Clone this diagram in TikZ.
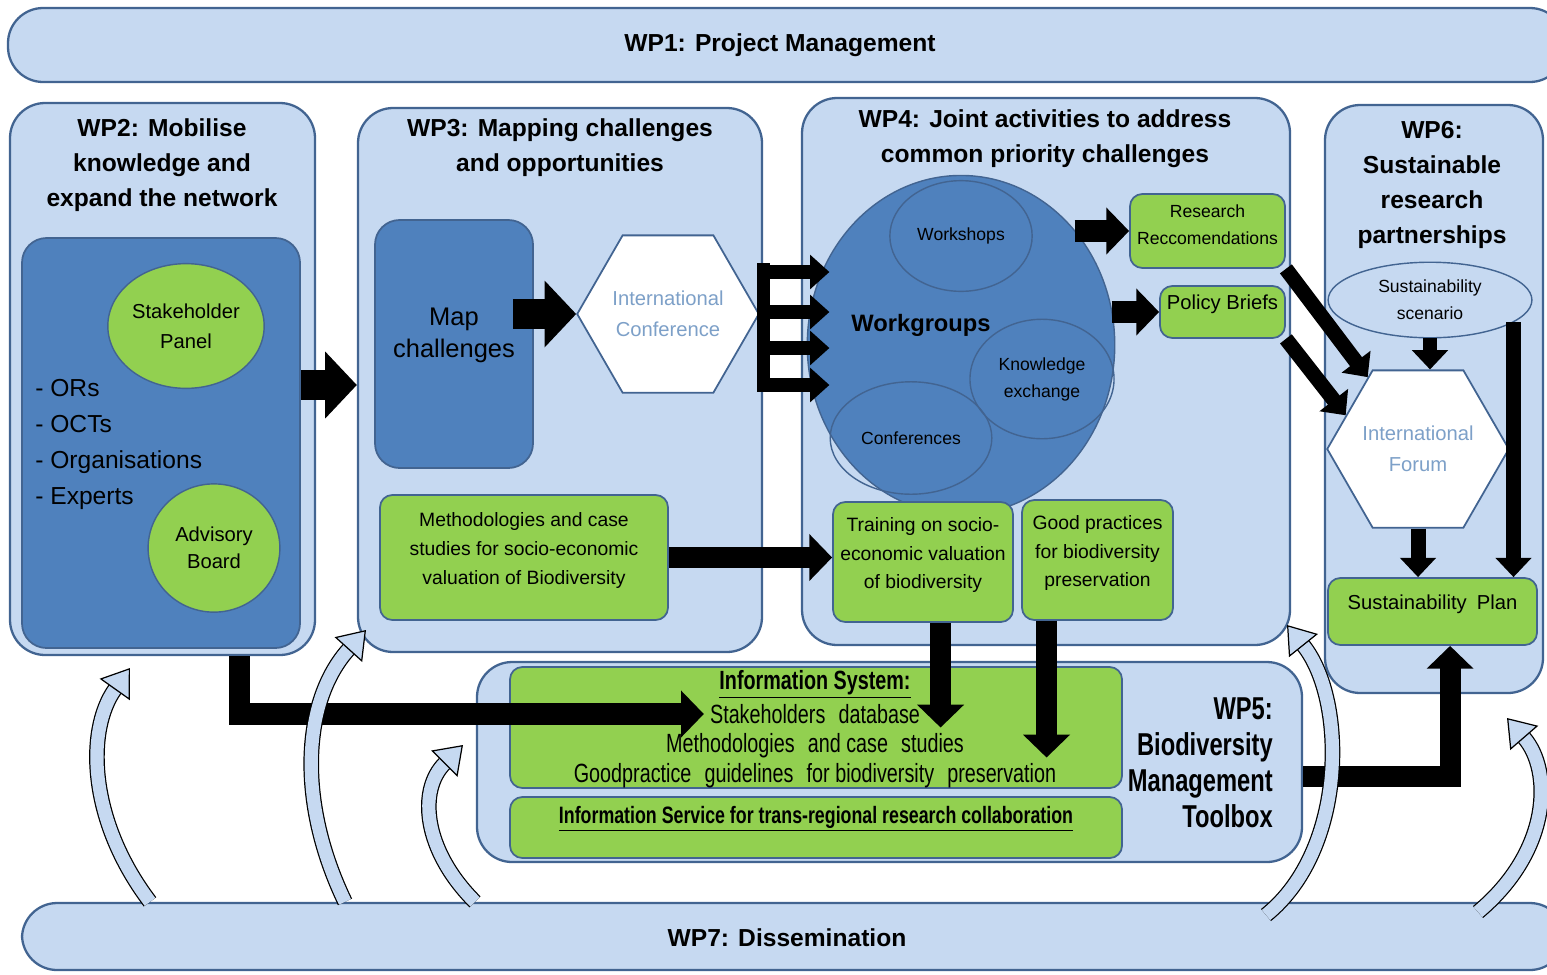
\documentclass[tikz,border=0pt]{standalone}
\usepackage{fontspec}
\setmainfont{Liberation Sans}
\newfontfamily\narrowfont{Liberation Sans}[FakeStretch=0.75]
\usetikzlibrary{arrows.meta,shapes.geometric,fit,positioning}
\definecolor{paleblue}{RGB}{198,217,241}
\definecolor{edgeblue}{RGB}{66,100,145}
\definecolor{midblue}{RGB}{79,129,189}
\definecolor{leafgreen}{RGB}{146,208,80}
\definecolor{hextext}{RGB}{125,160,200}
\newcommand{\fsz}[2]{\fontsize{#1}{#2}\selectfont}
\begin{document}
\begin{tikzpicture}[x=0.02cm,y=-0.02cm,
  wp/.style={draw=edgeblue,fill=paleblue,line width=1.3pt,rounded corners=20pt,inner sep=0pt},
  wptitle/.style={font=\fsz{14}{20}\bfseries,align=center},
  darkbox/.style={draw=edgeblue,fill=midblue,line width=1pt,rounded corners=14pt,inner sep=0pt,align=center},
  greenbox/.style={draw=edgeblue,fill=leafgreen,line width=1pt,rounded corners=7pt,inner sep=0pt,align=center},
  blob/.style={ellipse,draw=edgeblue,line width=0.8pt,inner sep=0pt,align=center},
  hexa/.style={regular polygon,regular polygon sides=6,minimum size=102pt,inner sep=0pt,
    draw=edgeblue,line width=1pt,fill=white,text=hextext,align=center,font=\fsz{11.5}{17.5}},
  bigarrow/.style={line width=17pt,-{Triangle[length=18pt,width=37pt]}},
  midarrow/.style={line width=12pt,-{Triangle[length=13pt,width=26pt]}},
  thinarrow/.style={line width=8.5pt,-{Triangle[length=11pt,width=20pt]}},
  curvy/.style={draw=black,line width=0.7pt,double=paleblue,double distance=7.5pt,
    -{Triangle[length=15pt,width=21pt,fill=paleblue]}},
]
\useasboundingbox (0,0) rectangle (1547,974);
\fill[white] (0,0) rectangle (1547,974);

% work packages
\node[wp,fit={(8,8) (1565,82)}] (wp1) {};
\node[wptitle] (wp1t) at (780,45) {WP1: Project Management};
\node[wp,fit={(22,903) (1565,970)}] (wp7) {};
\node[wptitle] (wp7t) at (787,938) {WP7: Dissemination};
\node[wp,fit={(10,103) (315,655)}] (wp2) {};
\node[wp,fit={(358,108) (762,652)}] (wp3) {};
\node[wp,fit={(802,98) (1290,645)}] (wp4) {};
\node[wp,fit={(1325,105) (1543,693)}] (wp6) {};
\node[wp,fit={(477,662) (1302,862)}] (wp5) {};
\node[wptitle] (wp2t) at (162,165) {WP2: Mobilise\\knowledge and\\expand the network};
\node[wptitle] (wp3t) at (560,148) {WP3: Mapping challenges\\and opportunities};
\node[wptitle] (wp4t) at (1045,139) {WP4: Joint activities to address\\common priority challenges};
\node[wptitle] (wp6t) at (1432,185) {WP6:\\Sustainable\\research\\partnerships};
\node[font=\narrowfont\fsz{18}{20.5}\bfseries,align=right,anchor=east] (wp5t) at (1279,763)
  {WP5:\\Biodiversity\\Management\\Toolbox};

% WP2
\node[darkbox,fit={(22,238) (300,648)}] (wp2in) {};
\node[blob,fill=leafgreen,minimum width=89pt,minimum height=71pt,font=\fsz{11.5}{17}] (panel) at (186,326) {Stakeholder\\Panel};
\node[blob,fill=leafgreen,minimum width=75pt,minimum height=73pt,font=\fsz{11.5}{15.5}] (board) at (214,548) {Advisory\\Board};
\node[anchor=west,align=left,inner sep=0pt,font=\fsz{14}{20.5}] (actors) at (35,444) {- ORs\\- OCTs\\- Organisations\\- Experts};

% WP3
\node[darkbox,fit={(375,220) (533,468)},font=\fsz{14.5}{18}] (mapch) {Map\\challenges};
\node[hexa] (conf) at (668,314) {International\\Conference};
\node[greenbox,fit={(380,495) (668,620)},font=\fsz{11}{16.3}] (meth) {Methodologies and case\\studies for socio-economic\\valuation of Biodiversity};

% WP4
\node[blob,fill=midblue,minimum width=175pt,minimum height=193pt] (wg) at (961,345) {};
\node[font=\fsz{13.5}{16}\bfseries] (wglabel) at (921,325) {Workgroups};
\node[blob,minimum width=81pt,minimum height=63pt,font=\fsz{10}{15}] (shops) at (961,236) {Workshops};
\node[blob,minimum width=92pt,minimum height=64pt,font=\fsz{10}{15}] (confs) at (911,438) {Conferences};
\node[blob,minimum width=82pt,minimum height=68pt,font=\fsz{10}{15.4}] (kex) at (1042,379) {Knowledge\\exchange};
\node[greenbox,fit={(1130,194) (1285,268)},font=\fsz{10}{15}] (recs) {Research\\Reccomendations};
\node[greenbox,fit={(1160,286) (1285,338)},font=\fsz{11.5}{14}] (briefs) {Policy Briefs};
\node[greenbox,fit={(833,502) (1013,622)},font=\fsz{11}{16.5}] (train) {Training on socio-\\economic valuation\\of biodiversity};
\node[greenbox,fit={(1022,500) (1173,620)},font=\fsz{11}{16.5}] (goodpr) {Good practices\\for biodiversity\\preservation};

% WP6
\node[blob,fill=paleblue,minimum width=116pt,minimum height=43pt,font=\fsz{10}{15.4}] (scen) at (1430,300) {Sustainability\\scenario};
\node[hexa] (forum) at (1418,449) {International\\Forum};
\node[greenbox,fit={(1328,578) (1537,645)},font=\fsz{11.5}{14}] (plan) {Sustainability\enspace Plan};

% WP5
\node[greenbox,fit={(510,667) (1122,788)}] (isys) {};
\node[font=\narrowfont\fsz{15}{18}\bfseries] (isyshead) at (815,684) {\underline{Information System:}};
\node[font=\narrowfont\fsz{15}{18}] (sdb) at (815,714) {Stakeholders\enspace database};
\node[font=\narrowfont\fsz{15}{18}] (mcs) at (815,746) {Methodologies\enspace and case\enspace studies};
\node[font=\narrowfont\fsz{15}{18}] (gpg) at (815,776) {Goodpractice\enspace guidelines\enspace for biodiversity\enspace preservation};
\node[greenbox,fit={(510,797) (1122,858)},font=\narrowfont\fsz{13.5}{16}\bfseries] (iserv)
  {\underline{Information Service for trans-regional research collaboration}};

% block arrows
\draw[bigarrow] ([yshift=33pt]wp2in.east) -- ([yshift=33pt]wp2in.east -| wp3.west);
\coordinate (mapout) at ([xshift=-12pt]mapch.east);
\draw[bigarrow] (mapout |- conf.west) -- (conf.west);
\coordinate (fan) at ([xshift=2pt]conf.east);
\coordinate (wgin) at ([xshift=13pt]wg.west);
\draw[line width=7.5pt] (fan |- 0,263) -- (fan |- 0,392);
\foreach \y in {272,312,348,385}
  \draw[line width=8pt,-{Triangle[length=11pt,width=19pt]}] (fan |- 0,\y) -- (wgin |- 0,\y);
\draw[midarrow] (meth.east) -- (meth.east -| train.west);
\draw[midarrow] ([xshift=-31pt]recs.west) -- (recs.west);
\draw[midarrow] ([xshift=-27pt]briefs.west) -- (briefs.west);
\draw[thinarrow] (recs.south east) -- (forum.125);
\draw[thinarrow] (briefs.south east) -- (forum.155);
\draw[thinarrow] (scen.south) -- (scen.south |- forum.north);
\draw[thinarrow] (forum.south) -- (forum.south |- plan.north);
\draw[thinarrow] (scen.-15) -- (scen.-15 |- plan.north);
\coordinate (planin) at ([xshift=10pt]plan.south);
\draw[midarrow] ([yshift=-8pt]wp5.east) -| (planin);
\coordinate (netout) at ([xshift=44pt]wp2.south);
\draw[midarrow] (netout) |- (sdb.west);
\coordinate (trainout) at ([xshift=10pt]train.south);
\draw[midarrow] (trainout) -- (trainout |- mcs.north);
\coordinate (goodout) at ([xshift=-29pt]goodpr.south);
\draw[midarrow] (goodout) -- (goodout |- gpg.north);

% dissemination feedback
\coordinate (up1) at (130,668);
\coordinate (up2) at (366,630);
\coordinate (up3) at (463,745);
\coordinate (up4) at (1287,625);
\coordinate (up5) at (1507,718);
\coordinate (dn4) at (1266,915);
\coordinate (dn5) at (1478,912);
\draw[curvy] (wp7.north -| 150,0) .. controls (88,820) and (86,730) .. (up1);
\draw[curvy] (wp7.north -| 345,0) .. controls (296,800) and (303,700) .. (up2);
\draw[curvy] (wp7.north -| 475,0) .. controls (423,850) and (418,790) .. (up3);
\draw[curvy] (dn4) .. controls (1347,850) and (1347,700) .. (up4);
\draw[curvy] (dn5) .. controls (1552,850) and (1552,770) .. (up5);
\end{tikzpicture}
\end{document}
